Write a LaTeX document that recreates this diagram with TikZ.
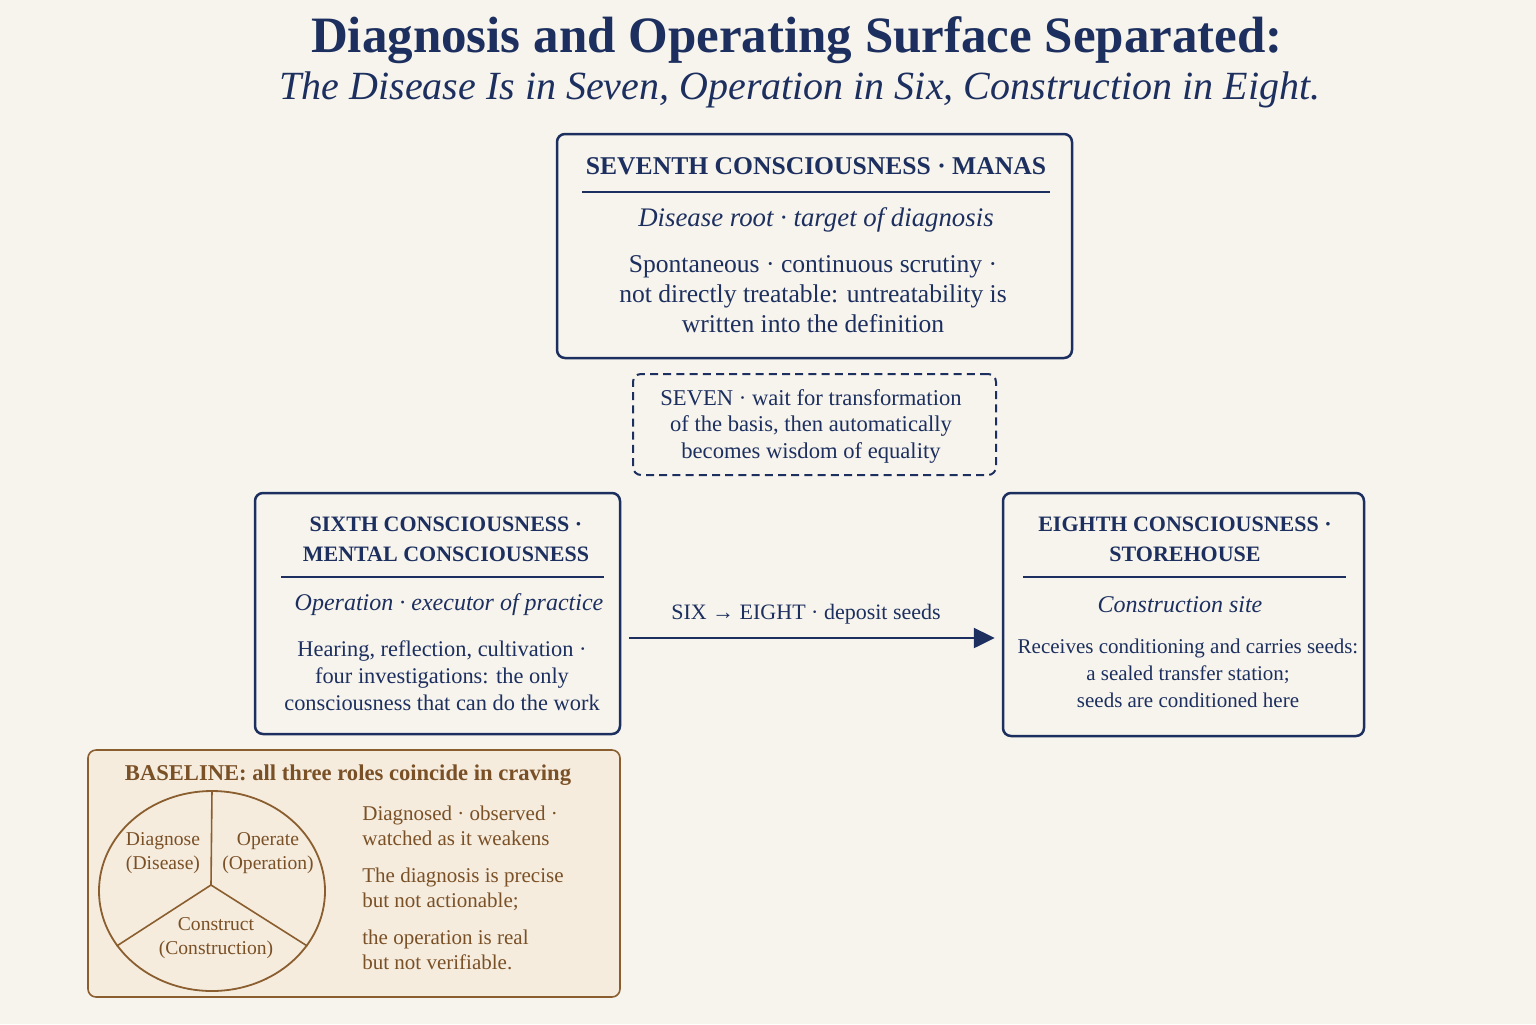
\documentclass[tikz,border=0pt]{standalone}
\usepackage{fontspec}
\setmainfont{Liberation Serif}
\usetikzlibrary{arrows.meta,shapes.geometric}
\definecolor{navy}{HTML}{1C2F5E}
\definecolor{paper}{HTML}{F7F4EE}
\definecolor{umber}{HTML}{8A5E2E}
\definecolor{umbertext}{HTML}{7A5026}
\definecolor{sand}{HTML}{F5ECDE}

\begin{document}
\begin{tikzpicture}[x=0.5pt,y=-0.5pt,
    layer box/.style={draw=navy,line width=1.25pt,rounded corners=4pt,inner sep=0pt},
    note box/.style={draw=navy,line width=1pt,dash pattern=on 4pt off 2.6pt,rounded corners=4pt,inner sep=0pt},
    base box/.style={draw=umber,fill=sand,line width=0.8pt,rounded corners=4pt,inner sep=0pt},
    head/.style={text=navy,align=center,inner sep=0pt,font=\bfseries\fontsize{11}{15}\selectfont},
    role/.style={text=navy,align=center,inner sep=0pt,font=\itshape\fontsize{12}{14}\selectfont},
    body/.style={text=navy,align=center,inner sep=0pt,font=\fontsize{11.2}{13.5}\selectfont},
    rule/.style={navy,line width=0.75pt},
    pie/.style={text=umbertext,align=center,inner sep=0pt,font=\fontsize{9.8}{11.75}\selectfont},
    verdict/.style={text=umbertext,align=left,anchor=west,inner sep=0pt,font=\fontsize{10.5}{12.5}\selectfont}]

    \fill[paper] (0,0) rectangle (1536,1024);

    % title
    \node[text=navy,font=\bfseries\fontsize{25.5}{30}\selectfont] (title) at (797,40) {Diagnosis and Operating Surface Separated:};
    \node[text=navy,font=\itshape\fontsize{20}{24}\selectfont] (subtitle) at (800,90) {The Disease Is in Seven, Operation in Six, Construction in Eight.};

    % seventh
    \node[layer box,minimum width=257.5pt,minimum height=112pt] (seven) at (814.5,246) {};
    \node[head,font=\bfseries\fontsize{12.8}{15}\selectfont] (seven head) at (816,166) {SEVENTH CONSCIOUSNESS · MANAS};
    \draw[rule] (582,192) -- (1050,192);
    \node[role,font=\itshape\fontsize{13.4}{15}\selectfont] (seven role) at (816,220) {Disease root · target of diagnosis};
    \node[body,font=\fontsize{12.8}{15}\selectfont] (seven body) at (813,294) {Spontaneous · continuous scrutiny ·\\not directly treatable: untreatability is\\written into the definition};

    % waiting note
    \node[note box,minimum width=181.5pt,minimum height=50.5pt] (wait) at (814.5,424.5) {};
    \node[body,font=\fontsize{11.3}{13.25}\selectfont] (wait text) at (811,426) {SEVEN · wait for transformation\\of the basis, then automatically\\becomes wisdom of equality};

    % sixth
    \node[layer box,minimum width=182.5pt,minimum height=120.5pt] (six) at (437.5,613.5) {};
    \node[head] (six head) at (446,539) {SIXTH CONSCIOUSNESS ·\\MENTAL CONSCIOUSNESS};
    \draw[rule] (281,577) -- (604,577);
    \node[role] (six role) at (449,605) {Operation · executor of practice};
    \node[body] (six body) at (442,676) {Hearing, reflection, cultivation ·\\four investigations: the only\\consciousness that can do the work};

    % eighth
    \node[layer box,minimum width=180.5pt,minimum height=121.5pt] (eight) at (1183.5,614.5) {};
    \node[head] (eight head) at (1185,539) {EIGHTH CONSCIOUSNESS ·\\STOREHOUSE};
    \draw[rule] (1023,577) -- (1346,577);
    \node[role] (eight role) at (1180,605) {Construction site};
    \node[body,font=\fontsize{10.5}{13.5}\selectfont] (eight body) at (1188,673) {Receives conditioning and carries seeds:\\a sealed transfer station;\\seeds are conditioned here};

    % six -> eight
    \coordinate (seedrow) at (800,638);
    \draw[navy,line width=1.25pt,-{Triangle[length=10.5pt,width=10pt]},shorten <=4pt,shorten >=3.5pt]
        (six.east |- seedrow) -- (eight.west |- seedrow);
    \node[body,font=\fontsize{11}{13}\selectfont] (seed label) at (806,614) {SIX → EIGHT · deposit seeds};

    % baseline
    \node[base box,minimum width=266pt,minimum height=123.5pt] (base) at (354,873.5) {};
    \node[text=umbertext,inner sep=0pt,font=\bfseries\fontsize{11.3}{13}\selectfont] (base head) at (348,775) {BASELINE: all three roles coincide in craving};
    \node[draw=umber,line width=0.9pt,ellipse,minimum width=113pt,minimum height=100pt,inner sep=0pt] (roles) at (212,891) {};
    \coordinate (hub) at (211,885);
    \path[draw=umber,line width=0.8pt]
        (hub) edge (roles.north)
        (hub) edge (roles.210)
        (hub) edge (roles.330);
    \node[pie] (diagnose) at (163,853) {Diagnose\\(Disease)};
    \node[pie] (operate) at (268,853) {Operate\\(Operation)};
    \node[pie] (construct) at (216,938) {Construct\\(Construction)};
    \node[verdict] (observed) at (362,826) {Diagnosed · observed ·\\watched as it weakens};
    \node[verdict] (precise) at (362,889) {The diagnosis is precise\\but not actionable;};
    \node[verdict] (real) at (362,950) {the operation is real\\but not verifiable.};
\end{tikzpicture}
\end{document}
